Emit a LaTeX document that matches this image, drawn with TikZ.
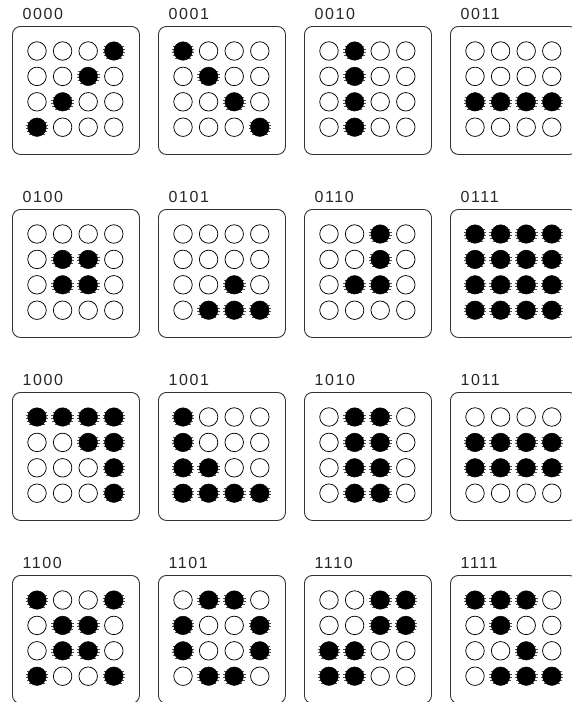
\documentclass[tikz,border=0pt]{standalone}
\usepackage{fontspec}
\setmainfont{Liberation Sans}[LetterSpace=10]
\begin{document}
\begin{tikzpicture}[x=1pt,y=-1pt,
  panelbox/.style={draw=black!80,line width=0.9pt,rounded corners=8pt,rectangle,
    minimum width=127pt,minimum height=128pt,anchor=north west,inner sep=0pt},
  plabel/.style={anchor=west,inner sep=0pt,text=black!85,font=\fontsize{16}{18}\selectfont},
  offdot/.style={circle,draw=black,line width=0.75pt,minimum size=18.5pt,inner sep=0pt},
  ondot/.style={circle,fill=black,draw=black,line width=0.5pt,minimum size=18.5pt,inner sep=0pt},
  spike/.style={draw=black!70,line width=0.4pt}]
\useasboundingbox (0,0) rectangle (571,702);
\foreach \lab/\pat [count=\p from 0] in {
 0000/{0,0,0,1,0,0,1,0,0,1,0,0,1,0,0,0},
 0001/{1,0,0,0,0,1,0,0,0,0,1,0,0,0,0,1},
 0010/{0,1,0,0,0,1,0,0,0,1,0,0,0,1,0,0},
 0011/{0,0,0,0,0,0,0,0,1,1,1,1,0,0,0,0},
 0100/{0,0,0,0,0,1,1,0,0,1,1,0,0,0,0,0},
 0101/{0,0,0,0,0,0,0,0,0,0,1,0,0,1,1,1},
 0110/{0,0,1,0,0,0,1,0,0,1,1,0,0,0,0,0},
 0111/{1,1,1,1,1,1,1,1,1,1,1,1,1,1,1,1},
 1000/{1,1,1,1,0,0,1,1,0,0,0,1,0,0,0,1},
 1001/{1,0,0,0,1,0,0,0,1,1,0,0,1,1,1,1},
 1010/{0,1,1,0,0,1,1,0,0,1,1,0,0,1,1,0},
 1011/{0,0,0,0,1,1,1,1,1,1,1,1,0,0,0,0},
 1100/{1,0,0,1,0,1,1,0,0,1,1,0,1,0,0,1},
 1101/{0,1,1,0,1,0,0,1,1,0,0,1,0,1,1,0},
 1110/{0,0,1,1,0,0,1,1,1,1,0,0,1,1,0,0},
 1111/{1,1,1,0,0,1,0,0,0,0,1,0,0,1,1,1}} {
  \pgfmathsetmacro{\X}{12+146*mod(\p,4)}
  \pgfmathsetmacro{\Y}{26+183*int(\p/4)}
  \node[panelbox] (box\p) at (\X,\Y) {};
  \node[plabel] (lab\p) at (\X+10.5,\Y-12) {\lab};
  \foreach \v [count=\i from 0] in \pat {
    \pgfmathsetmacro{\cx}{\X+25+25.6*mod(\i,4)}
    \pgfmathsetmacro{\cy}{\Y+25+25.4*int(\i/4)}
    \ifnum\v=1
      \foreach \dy/\dx in {-5/9.8,-2/11.3,1/11.3,4/10.3,7/7.8}
        \draw[spike] (\cx-\dx,\cy+\dy) -- (\cx+\dx,\cy+\dy);
      \node[ondot] (d\p-\i) at (\cx,\cy) {};
    \else
      \node[offdot] (d\p-\i) at (\cx,\cy) {};
    \fi
  }
}
\end{tikzpicture}
\end{document}
